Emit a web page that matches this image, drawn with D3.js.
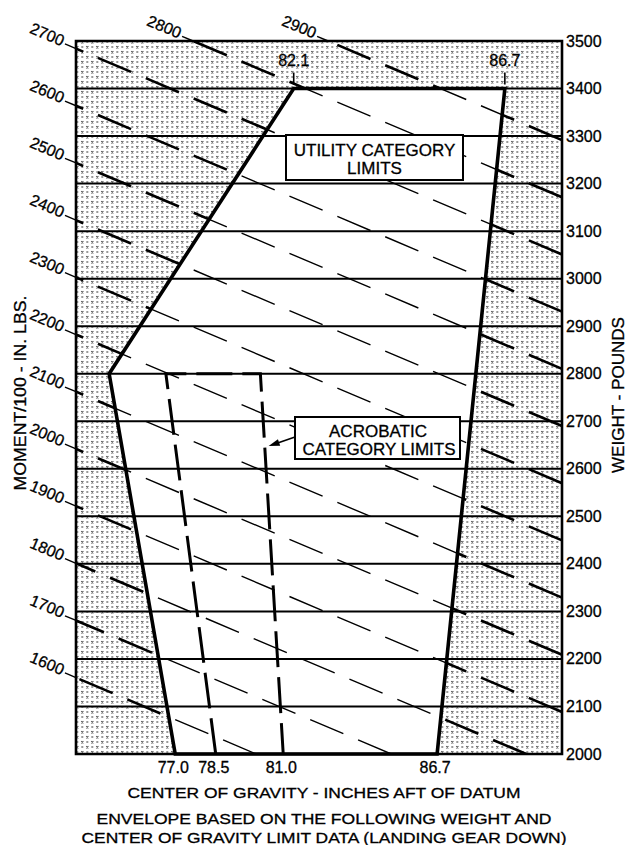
<!DOCTYPE html>
<html>
<head>
<meta charset="utf-8">
<script src="https://cdn.jsdelivr.net/npm/d3@7"></script>
<style>
  body { margin: 0; background: #fff; }
  svg { display: block; }
  text { font-family: "Liberation Sans", Arial, Helvetica, sans-serif; fill: #000; stroke: #000; stroke-width: 0.3; }
</style>
</head>
<body>
<svg id="chart" width="627" height="845"></svg>
<script>
// ---- data ----
const weightTicks = d3.range(2000, 3501, 100);          // pounds
const momentLines = d3.range(1600, 2901, 100);          // moment/100, in-lb
const utilityCG = [77.0, 77.0, 82.1, 86.7, 86.7];       // inches aft of datum
const utilityWeight = [2000, 2800, 3400, 3400, 2000];
const acrobaticCG = [78.5, 78.5, 81.0, 81.0];
const acrobaticWeight = [2000, 2800, 2800, 2000];
const bottomCgLabels = ["77.0", "78.5", "81.0", "86.7"]; // read at 2000 lb
const topCgLabels = ["82.1", "86.7"];                    // read at 3400 lb

// ---- layout ----
const svg = d3.select("#chart");
const frame = { left: 76, right: 562, top: 41, bottom: 754 };
const W0 = 2000, W1 = 3500;

const y = d3.scaleLinear().domain([W0, W1]).range([frame.bottom, frame.top]);
// moment/100 measured along the 2000 lb line
const xM = d3.scaleLinear().domain([1466.5, 1826.5]).range([frame.left, frame.right]);
// the chart is sheared: heavier weights shift left by SKEW px per px of height
const SKEW = 2.3606;

const projM = (m, w) => [xM(m) + SKEW * (y(w) - y(W0)), y(w)];
const proj = (cg, w) => projM(cg * w / 100, w);

const envelopePts = utilityCG.map((c, i) => proj(c, utilityWeight[i]));
const acroPts = acrobaticCG.map((c, i) => proj(c, acrobaticWeight[i]));

const line = d3.line();
const framePath = `M${frame.left},${frame.top}H${frame.right}V${frame.bottom}H${frame.left}Z`;
const envPath = line(envelopePts) + "Z";

// ---- defs: stipple, clips ----
const defs = svg.append("defs");
const pat = defs.append("pattern").attr("id", "stipple")
  .attr("patternUnits", "userSpaceOnUse").attr("width", 10).attr("height", 10);
pat.append("path")
  .attr("d", "M1.2,1.2l2.2,2.2M3.4,1.2l-2.2,2.2M6.2,6.2l2.2,2.2M8.4,6.2l-2.2,2.2")
  .attr("stroke", "#555").attr("stroke-width", 1.05);
pat.append("path")
  .attr("d", "M6.3,1.3h2v1.4h-2zM1.3,6.3h2v1.4h-2z")
  .attr("fill", "#777");

defs.append("clipPath").attr("id", "inside")
  .append("path").attr("d", envPath);
defs.append("clipPath").attr("id", "outside")
  .append("path").attr("d", framePath + envPath).attr("clip-rule", "evenodd");

// stippled area outside the envelope
svg.append("path").attr("d", framePath + envPath)
  .attr("fill", "url(#stipple)").attr("fill-rule", "evenodd");

// ---- constant-moment lines ----
function momentSegment(m) {
  // lower-right end
  let a = projM(m, W0);
  if (a[0] > frame.right) a = [frame.right, frame.bottom + (frame.right - xM(m)) / SKEW];
  // upper-left end
  let b = projM(m, W1);
  if (b[0] < frame.left) b = [frame.left, frame.bottom + (frame.left - xM(m)) / SKEW];
  return [a, b];
}
const segs = momentLines.map(m => ({ m, pts: momentSegment(m) }));

svg.append("g").attr("clip-path", "url(#inside)")
  .selectAll("path").data(segs).join("path")
  .attr("d", d => line(d.pts)).attr("stroke", "#000").attr("stroke-width", 1.4)
  .attr("stroke-dasharray", "36,16").attr("fill", "none");
svg.append("g").attr("clip-path", "url(#outside)")
  .selectAll("path").data(segs).join("path")
  .attr("d", d => line(d.pts)).attr("stroke", "#000").attr("stroke-width", 2.6)
  .attr("stroke-dasharray", "36,16").attr("fill", "none");

// moment labels on the left / top edges
const ang = Math.atan(1 / SKEW);
const angDeg = ang * 180 / Math.PI;
const ml = svg.append("g");
segs.forEach(d => {
  const [ex, ey] = d.pts[1];
  const tx = ex - 12 * Math.cos(ang), ty = ey - 12 * Math.sin(ang);
  ml.append("line").attr("x1", ex).attr("y1", ey).attr("x2", tx).attr("y2", ty)
    .attr("stroke", "#000").attr("stroke-width", 1.4);
  const lx = tx - 1.5 * Math.cos(ang), ly = ty - 1.5 * Math.sin(ang);
  ml.append("text").attr("transform", `translate(${lx},${ly - 2}) rotate(${angDeg})`)
    .attr("text-anchor", "end").attr("dominant-baseline", "central")
    .attr("font-size", 16).text(d.m);
});

// ---- weight grid lines ----
svg.append("g").selectAll("line").data(weightTicks).join("line")
  .attr("x1", frame.left).attr("x2", frame.right)
  .attr("y1", d => y(d)).attr("y2", d => y(d))
  .attr("stroke", "#000").attr("stroke-width", 2);

// ---- envelope and acrobatic limits ----
svg.append("path").attr("d", envPath).attr("fill", "none")
  .attr("stroke", "#000").attr("stroke-width", 3.6).attr("stroke-linejoin", "miter");
svg.append("path").attr("d", line(acroPts)).attr("fill", "none")
  .attr("stroke", "#000").attr("stroke-width", 3).attr("stroke-dasharray", "36,10");

// ---- frame ----
svg.append("path").attr("d", framePath).attr("fill", "none")
  .attr("stroke", "#000").attr("stroke-width", 2.6);

// ---- right weight axis labels ----
svg.append("g").selectAll("text").data(weightTicks).join("text")
  .attr("x", frame.right + 4).attr("y", d => y(d))
  .attr("dominant-baseline", "central").attr("font-size", 16).text(d => d);

// ---- CG labels ----
svg.append("g").selectAll("text").data(bottomCgLabels).join("text")
  .attr("x", d => proj(+d, W0)[0] - 2).attr("y", frame.bottom + 13)
  .attr("text-anchor", "middle").attr("dominant-baseline", "central")
  .attr("font-size", 16).text(d => d);
const topG = svg.append("g");
topCgLabels.forEach(d => {
  const [px, py] = proj(+d, 3400);
  topG.append("text").attr("x", px).attr("y", py - 28)
    .attr("text-anchor", "middle").attr("dominant-baseline", "central")
    .attr("font-size", 16).text(d);
  topG.append("line").attr("x1", px).attr("x2", px)
    .attr("y1", py - 16).attr("y2", py - 4)
    .attr("stroke", "#000").attr("stroke-width", 1.6);
});

// ---- callout boxes ----
function box(x0, y0, x1, y1, lines) {
  const g = svg.append("g");
  g.append("rect").attr("x", x0).attr("y", y0).attr("width", x1 - x0).attr("height", y1 - y0)
    .attr("fill", "#fff").attr("stroke", "#000").attr("stroke-width", 2);
  lines.forEach(l => g.append("text").attr("x", l.x).attr("y", l.y)
    .attr("text-anchor", "middle").attr("dominant-baseline", "central")
    .attr("font-size", 17).text(l.t));
}
box(286, 135, 463, 180, [{ t: "UTILITY CATEGORY", x: 374.5, y: 150 }, { t: "LIMITS", x: 374.5, y: 168 }]);
box(295, 417, 460, 459, [{ t: "ACROBATIC", x: 378, y: 431 }, { t: "CATEGORY LIMITS", x: 379, y: 449 }]);

// arrow from acrobatic box to the aft acrobatic limit
const tip = proj(acrobaticCG[2], 2650);
const tx0 = tip[0] + 4, ty0 = tip[1] + 1;
const sx = 295, sy = 437;
const aa = Math.atan2(ty0 - sy, tx0 - sx);
svg.append("line").attr("x1", sx).attr("y1", sy).attr("x2", tx0 - 8 * Math.cos(aa)).attr("y2", ty0 - 8 * Math.sin(aa))
  .attr("stroke", "#000").attr("stroke-width", 1.6);
svg.append("path")
  .attr("d", `M${tx0},${ty0}L${tx0 - 11 * Math.cos(aa) + 3.5 * Math.sin(aa)},${ty0 - 11 * Math.sin(aa) - 3.5 * Math.cos(aa)}L${tx0 - 11 * Math.cos(aa) - 3.5 * Math.sin(aa)},${ty0 - 11 * Math.sin(aa) + 3.5 * Math.cos(aa)}Z`)
  .attr("fill", "#000");

// ---- titles ----
svg.append("text").attr("transform", "translate(20,393) rotate(-90)")
  .attr("text-anchor", "middle").attr("dominant-baseline", "central")
  .attr("font-size", 16.5).attr("textLength", 195).attr("lengthAdjust", "spacingAndGlyphs")
  .text("MOMENT/100 - IN. LBS.");
svg.append("text").attr("transform", "translate(618,395) rotate(-90)")
  .attr("text-anchor", "middle").attr("dominant-baseline", "central")
  .attr("font-size", 16.5).attr("textLength", 156).attr("lengthAdjust", "spacingAndGlyphs")
  .text("WEIGHT - POUNDS");

const footer = [
  { t: "CENTER OF GRAVITY - INCHES AFT OF DATUM", y: 792, len: 393 },
  { t: "ENVELOPE BASED ON THE FOLLOWING WEIGHT AND", y: 818, len: 455 },
  { t: "CENTER OF GRAVITY LIMIT DATA (LANDING GEAR DOWN)", y: 837, len: 485 }
];
svg.append("g").selectAll("text").data(footer).join("text")
  .attr("x", 324).attr("y", d => d.y)
  .attr("text-anchor", "middle").attr("dominant-baseline", "central")
  .attr("font-size", 15.5).attr("textLength", d => d.len).attr("lengthAdjust", "spacingAndGlyphs")
  .text(d => d.t);
</script>
</body>
</html>
